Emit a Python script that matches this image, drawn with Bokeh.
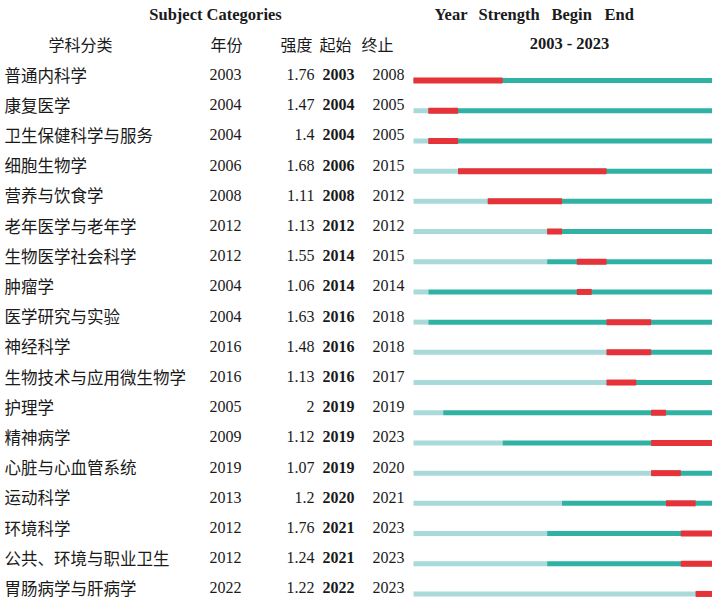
from bokeh.plotting import figure
from bokeh.models import Range1d, ColumnDataSource
from bokeh.core.properties import value
from bokeh.embed import file_html
from bokeh.resources import INLINE

categories = ["普通内科学", "康复医学", "卫生保健科学与服务", "细胞生物学", "营养与饮食学",
              "老年医学与老年学", "生物医学社会科学", "肿瘤学", "医学研究与实验", "神经科学",
              "生物技术与应用微生物学", "护理学", "精神病学", "心脏与心血管系统", "运动科学",
              "环境科学", "公共、环境与职业卫生", "胃肠病学与肝病学"]
years = [2003, 2004, 2004, 2006, 2008, 2012, 2012, 2004, 2004, 2016, 2016, 2005, 2009, 2019, 2013, 2012, 2012, 2022]
strength = ["1.76", "1.47", "1.4", "1.68", "1.11", "1.13", "1.55", "1.06", "1.63", "1.48",
            "1.13", "2", "1.12", "1.07", "1.2", "1.76", "1.24", "1.22"]
begin = [2003, 2004, 2004, 2006, 2008, 2012, 2014, 2014, 2016, 2016, 2016, 2019, 2019, 2019, 2020, 2021, 2021, 2022]
end = [2008, 2005, 2005, 2015, 2012, 2012, 2015, 2014, 2018, 2018, 2017, 2019, 2023, 2020, 2021, 2023, 2023, 2023]
first_year, last_year = 2003, 2023
header_words = ["Year", "Strength", "Begin", "End"]
col_headers = ["学科分类", "年份", "强度", "起始", "终止"]

n = len(categories)
rows = list(range(n))
bar_rows = [r + 0.2 for r in rows]

W, H = 712, 600
# x: text columns in pixel-like units; extra "yr" range for the timeline
px_per_year = 14.85
x_yr0 = 413.0            # pixel of first_year start within figure
yr_start = first_year - x_yr0 / px_per_year
yr_end = yr_start + W / px_per_year
# y: row index
row_px = 30.2
row0 = 74.0
y_top = (0 - row0) / row_px
y_bot = (H - row0) / row_px

p = figure(width=W, height=H, x_range=Range1d(0, W), y_range=Range1d(y_bot, y_top),
           output_backend="svg", toolbar_location=None, min_border=0)
p.extra_x_ranges = {"yr": Range1d(yr_start, yr_end)}
p.xaxis.visible = False
p.yaxis.visible = False
p.xgrid.visible = False
p.ygrid.visible = False
p.outline_line_color = None
p.background_fill_color = "white"
p.border_fill_color = "white"

src = ColumnDataSource(dict(
    row=rows, brow=bar_rows, name=categories,
    year=[str(y) for y in years], strength=strength,
    begin=[str(b) for b in begin], end=[str(e) for e in end],
    y0=[first_year] * n, ys=years, yend=[last_year + 1] * n,
    bs=begin, be=[e + 1 for e in end],
))

light = "#a9d9d8"
teal = "#2fb1a4"
red = "#e6333a"

p.segment(x0="y0", x1="ys", y0="brow", y1="brow", source=src, line_color=light,
          line_width=5, line_cap="butt", x_range_name="yr")
p.segment(x0="ys", x1="yend", y0="brow", y1="brow", source=src, line_color=teal,
          line_width=5, line_cap="butt", x_range_name="yr")
p.segment(x0="bs", x1="be", y0="brow", y1="brow", source=src, line_color=red,
          line_width=6, line_cap="butt", x_range_name="yr")

cjk = value("Noto Sans CJK SC")
serif = value("Liberation Serif")
txt = "#1a1a1a"

p.text(x=4, y="row", text="name", source=src, text_font=cjk, text_font_size="16.5px",
       text_baseline="middle", text_align="left", text_color=txt)
p.text(x=225, y="row", text="year", source=src, text_font=serif, text_font_size="16px",
       text_baseline="middle", text_align="center", text_color=txt)
p.text(x=314, y="row", text="strength", source=src, text_font=serif, text_font_size="16px",
       text_baseline="middle", text_align="right", text_color=txt)
p.text(x=322, y="row", text="begin", source=src, text_font=serif, text_font_size="16px",
       text_font_style="bold", text_baseline="middle", text_align="left", text_color=txt)
p.text(x=372, y="row", text="end", source=src, text_font=serif, text_font_size="16px",
       text_baseline="middle", text_align="left", text_color=txt)

# headers
hy1 = (14 - row0) / row_px
hy2 = (43 - row0) / row_px
p.text(x=[215], y=[hy1], text=["Subject Categories"], text_font=serif, text_font_size="16.5px",
       text_font_style="bold", text_baseline="middle", text_align="center", text_color=txt)
p.text(x=[434, 478, 551, 604], y=[hy1] * 4, text=header_words, text_font=serif,
       text_font_size="16.5px", text_font_style="bold", text_baseline="middle",
       text_align="left", text_color=txt)
p.text(x=[569], y=[hy2], text=[f"{first_year} - {last_year}"], text_font=serif, text_font_size="16.5px",
       text_font_style="bold", text_baseline="middle", text_align="center", text_color=txt)
p.text(x=[80, 226, 296, 335, 377], y=[hy2] * 5, text=col_headers,
       text_font=cjk, text_font_size="16px", text_baseline="middle", text_align="center", text_color=txt)

open("out.html", "w").write(file_html(p, INLINE))
